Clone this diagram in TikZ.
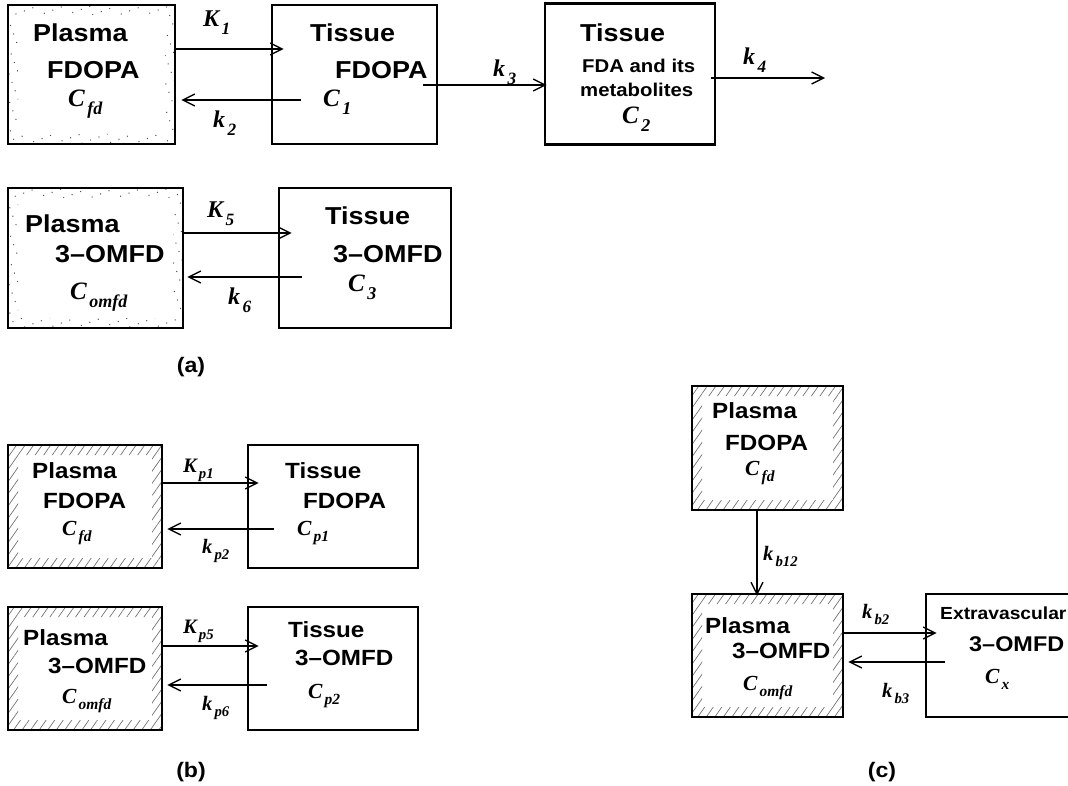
\documentclass[tikz,border=0pt]{standalone}
\usepackage{fontspec}
\setmainfont{Liberation Sans}[FakeStretch=1.1]
\newfontfamily\symf{Liberation Serif}
\usetikzlibrary{arrows.meta,patterns.meta}

\newcommand{\sbs}[2]{#1\kern0.1em\raisebox{-0.3em}{\scalebox{0.72}{#2}}}

\tikzset{
  box/.style={draw, line width=2.8pt, inner sep=0pt},
  band/.style={path picture={\fill[#1, even odd rule]
      (path picture bounding box.north west) rectangle (path picture bounding box.south east)
      ([shift={(10pt,-10pt)}]path picture bounding box.north west) rectangle
      ([shift={(-10pt,10pt)}]path picture bounding box.south east);}},
  speckle/.style={band={pattern={Dots[distance=9pt,radius=0.7pt,angle=20]}, pattern color=black!70}},
  hatch/.style={band={pattern={Lines[angle=55,distance=7pt,line width=0.7pt]}, pattern color=black!55}},
  lbl/.style={anchor=base west, inner sep=0pt, font=\bfseries\fontsize{24.5}{26}\selectfont},
  slbl/.style={anchor=base west, inner sep=0pt, font=\bfseries\fontsize{22}{24}\selectfont},
  tlbl/.style={anchor=base west, inner sep=0pt, font=\bfseries\fontsize{17.5}{19}\selectfont},
  sym/.style={anchor=base west, inner sep=0pt, font=\symf\bfseries\itshape\fontsize{25}{26}\selectfont},
  ssym/.style={anchor=base west, inner sep=0pt, font=\symf\bfseries\itshape\fontsize{21.5}{22}\selectfont},
  rate/.style={anchor=base west, inner sep=0pt, font=\symf\bfseries\itshape\fontsize{24}{26}\selectfont},
  srate/.style={anchor=base west, inner sep=0pt, font=\symf\bfseries\itshape\fontsize{20.5}{22}\selectfont},
  caption/.style={inner sep=0pt, font=\bfseries\fontsize{21}{22}\selectfont},
  flow/.style={line width=1.3pt, -{Straight Barb[length=12pt,width=12pt,line width=1.3pt]}}
}

\begin{document}
\begin{tikzpicture}[x=1pt,y=-1pt]
\useasboundingbox (0,0) rectangle (1068,786);

% (a) FDOPA
\node[box,speckle,minimum width=167pt,minimum height=139pt] (pfd) at (91.5,74.5) {};
\node[box,minimum width=165pt,minimum height=139pt] (tfd) at (354.5,74.5) {};
\node[box,minimum width=170pt,minimum height=141pt] (tfm) at (630,74) {};
\node[lbl] (pfd-1) at (33,42) {Plasma};
\node[lbl] (pfd-2) at (47,79) {FDOPA};
\node[sym] (pfd-c) at (68,107) {\sbs{C}{fd}};
\node[lbl] (tfd-1) at (310,42) {Tissue};
\node[lbl] (tfd-2) at (335,79) {FDOPA};
\node[sym] (tfd-c) at (323,107) {\sbs{C}{1}};
\node[lbl] (tfm-1) at (580,42) {Tissue};
\node[tlbl,font=\bfseries\fontsize{18.5}{20}\selectfont] (tfm-2) at (582,73) {FDA and its};
\node[tlbl,font=\bfseries\fontsize{18.5}{20}\selectfont] (tfm-3) at (580,97) {metabolites};
\node[sym] (tfm-c) at (622,124) {\sbs{C}{2}};
\draw[flow] ([yshift=25.5pt]pfd.east) -- ([xshift=13pt,yshift=25.5pt]tfd.west);
\draw[flow] ([xshift=30pt,yshift=-25.5pt]tfd.west) -- ([xshift=5pt,yshift=-25.5pt]pfd.east);
\draw[flow] ([xshift=-15pt,yshift=-10.5pt]tfd.east) -- ([xshift=3pt,yshift=-11pt]tfm.west);
\coordinate (out4) at (825,78);
\draw[flow] ([xshift=-5pt,yshift=-4pt]tfm.east) -- (out4);
\node[rate] (r1) at (203,27) {\sbs{K}{1}};
\node[rate] (r2) at (213,128) {\sbs{k}{2}};
\node[rate] (r3) at (493,77) {\sbs{k}{3}};
\node[rate] (r4) at (743,65) {\sbs{k}{4}};

% (a) 3-OMFD
\node[box,speckle,minimum width=175pt,minimum height=140pt] (pom) at (95.5,258) {};
\node[box,minimum width=172pt,minimum height=140pt] (tom) at (365,258) {};
\node[lbl] (pom-1) at (25,233) {Plasma};
\node[lbl] (pom-2) at (55,263) {3--OMFD};
\node[sym] (pom-c) at (70,300) {\sbs{C}{omfd}};
\node[lbl] (tom-1) at (325,225) {Tissue};
\node[lbl] (tom-2) at (333,263) {3--OMFD};
\node[sym] (tom-c) at (348,292) {\sbs{C}{3}};
\draw[flow] ([yshift=25pt]pom.east) -- ([xshift=14pt,yshift=25pt]tom.west);
\draw[flow] ([xshift=24pt,yshift=-19pt]tom.west) -- ([xshift=3pt,yshift=-19pt]pom.east);
\node[rate] (r5) at (207,218) {\sbs{K}{5}};
\node[rate] (r6) at (228,305) {\sbs{k}{6}};
\node[caption] (capa) at (191,367) {(a)};

% (b)
\node[box,hatch,minimum width=154pt,minimum height=123pt] (bpf) at (85,506.5) {};
\node[box,minimum width=170pt,minimum height=123pt] (btf) at (333,506.5) {};
\node[box,hatch,minimum width=154pt,minimum height=123pt] (bpo) at (85,668.5) {};
\node[box,minimum width=170pt,minimum height=123pt] (bto) at (333,668.5) {};
\node[slbl] (bpf-1) at (32,478) {Plasma};
\node[slbl] (bpf-2) at (43,508) {FDOPA};
\node[ssym] (bpf-c) at (62,535) {\sbs{C}{fd}};
\node[slbl] (btf-1) at (285,478) {Tissue};
\node[slbl] (btf-2) at (303,508) {FDOPA};
\node[ssym] (btf-c) at (297,535) {\sbs{C}{p1}};
\node[slbl] (bpo-1) at (23,645) {Plasma};
\node[slbl] (bpo-2) at (48,673) {3--OMFD};
\node[ssym] (bpo-c) at (62,703) {\sbs{C}{omfd}};
\node[slbl] (bto-1) at (288,637) {Tissue};
\node[slbl] (bto-2) at (295,665) {3--OMFD};
\node[ssym] (bto-c) at (308,698) {\sbs{C}{p2}};
\draw[flow] ([yshift=23.5pt]bpf.east) -- ([xshift=12pt,yshift=23.5pt]btf.west);
\draw[flow] ([xshift=27pt,yshift=-22.5pt]btf.west) -- ([xshift=4pt,yshift=-22.5pt]bpf.east);
\draw[flow] ([yshift=22.5pt]bpo.east) -- ([xshift=12pt,yshift=22.5pt]bto.west);
\draw[flow] ([xshift=20pt,yshift=-16.5pt]bto.west) -- ([xshift=4pt,yshift=-16.5pt]bpo.east);
\node[srate] (rp1) at (183,472) {\sbs{K}{p1}};
\node[srate] (rp2) at (202,553) {\sbs{k}{p2}};
\node[srate] (rp5) at (183,633) {\sbs{K}{p5}};
\node[srate] (rp6) at (202,710) {\sbs{k}{p6}};
\node[caption] (capb) at (191,772) {(b)};

% (c)
\node[box,hatch,minimum width=151pt,minimum height=124pt] (cpf) at (767.5,448) {};
\node[box,hatch,minimum width=151pt,minimum height=123pt] (cpo) at (767.5,655.5) {};
\node[box,minimum width=156pt,minimum height=123pt] (cex) at (1004,655.5) {};
\node[slbl] (cpf-1) at (712,418) {Plasma};
\node[slbl] (cpf-2) at (725,450) {FDOPA};
\node[ssym] (cpf-c) at (745,475) {\sbs{C}{fd}};
\node[slbl] (cpo-1) at (705,633) {Plasma};
\node[slbl] (cpo-2) at (732,658) {3--OMFD};
\node[ssym] (cpo-c) at (743,690) {\sbs{C}{omfd}};
\node[tlbl] (cex-1) at (940,619) {Extravascular};
\node[slbl,font=\bfseries\fontsize{21.3}{24}\selectfont] (cex-2) at (969,651) {3--OMFD};
\node[ssym] (cex-c) at (985,683) {\sbs{C}{x}};
\draw[flow] ([xshift=-10.5pt]cpf.south) -- ([xshift=-10.5pt,yshift=-3pt]cpo.north);
\draw[flow] ([yshift=22.5pt]cpo.east) -- ([xshift=12pt,yshift=22.5pt]cex.west);
\draw[flow] ([xshift=20pt,yshift=-6.5pt]cex.west) -- ([xshift=4pt,yshift=-6.5pt]cpo.east);
\node[srate] (rb12) at (763,560) {\sbs{k}{b12}};
\node[srate] (rb2) at (862,618) {\sbs{k}{b2}};
\node[srate] (rb3) at (882,697) {\sbs{k}{b3}};
\node[caption] (capc) at (882,772) {(c)};
\end{tikzpicture}
\end{document}
